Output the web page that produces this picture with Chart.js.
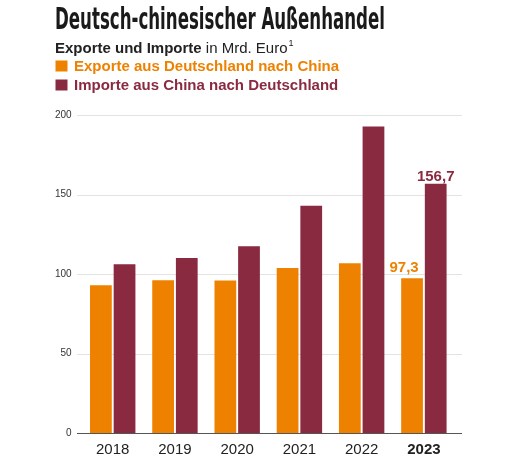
<!DOCTYPE html>
<html>
<head>
<meta charset="utf-8">
<script src="https://cdn.jsdelivr.net/npm/chart.js@4/dist/chart.umd.min.js"></script>
<style>
  html, body { margin: 0; background: #fff; }
  #wrap { width: 520px; height: 469px; position: relative; }
</style>
</head>
<body>
<div id="wrap"><canvas id="c"></canvas></div>
<script>
// data
const years = ["2018", "2019", "2020", "2021", "2022", "2023"];
const exportsDE = [93.0, 96.0, 95.9, 103.7, 106.8, 97.3];
const importsCN = [106.2, 110.1, 117.4, 143.0, 192.8, 156.7];
const yTicks = [0, 50, 100, 150, 200];
const titleText = "Deutsch-chinesischer Außenhandel";
const subBold = "Exporte und Importe";
const subRest = " in Mrd. Euro";
const legendLabels = ["Exporte aus Deutschland nach China", "Importe aus China nach Deutschland"];

const ORANGE = "#ee8100";
const RED = "#8a2a40";
const FONT = "'Liberation Sans', Arial, sans-serif";

// header: title, subtitle and legend drawn on the canvas
const header = {
  id: "header",
  beforeDraw(chart) {
    const ctx = chart.ctx;
    ctx.save();
    ctx.fillStyle = "#fff";
    ctx.fillRect(0, 0, chart.width, chart.height);
    ctx.textBaseline = "alphabetic";
    ctx.textAlign = "left";

    ctx.fillStyle = "#1a1a1a";
    ctx.font = "bold 31px 'Liberation Sans Narrow', 'DejaVu Sans Condensed', " + FONT;
    const w = ctx.measureText(titleText).width;
    ctx.save();
    ctx.translate(55, 29);
    ctx.scale(330 / w, 1);
    ctx.fillText(titleText, 0, 0);
    ctx.restore();

    ctx.fillStyle = "#222";
    ctx.font = "bold 15px " + FONT;
    ctx.fillText(subBold, 55, 53);
    let x = 55 + ctx.measureText(subBold).width;
    ctx.font = "15px " + FONT;
    ctx.fillText(subRest, x, 53);
    x += ctx.measureText(subRest).width;
    ctx.font = "9px " + FONT;
    ctx.fillText("1", x + 1, 46);

    const cols = [ORANGE, RED];
    legendLabels.forEach((t, i) => {
      const base = 71 + i * 19;
      ctx.fillStyle = cols[i];
      ctx.fillRect(55.5, base - 10.5, 12, 11);
      ctx.font = "bold 15px " + FONT;
      ctx.fillText(t, 74, base);
    });
    ctx.restore();
  }
};

// grid lines reach a bit past the bar area, zero line on top of the bars
const grid = {
  id: "grid",
  beforeDatasetsDraw(chart) {
    const ctx = chart.ctx, y = chart.scales.y, a = chart.chartArea;
    ctx.save();
    ctx.strokeStyle = "#e3e3e3";
    ctx.lineWidth = 1;
    yTicks.forEach(v => {
      if (v === 0) return;
      const py = Math.round(y.getPixelForValue(v)) + 0.5;
      ctx.beginPath();
      ctx.moveTo(a.left - 4.6, py);
      ctx.lineTo(a.right + 7, py);
      ctx.stroke();
    });
    ctx.restore();
  },
  afterDatasetsDraw(chart) {
    const ctx = chart.ctx, y = chart.scales.y, a = chart.chartArea;
    ctx.save();
    ctx.strokeStyle = "#555";
    ctx.lineWidth = 1;
    const py = Math.round(y.getPixelForValue(0)) + 0.5;
    ctx.beginPath();
    ctx.moveTo(a.left - 4.6, py);
    ctx.lineTo(a.right + 7, py);
    ctx.stroke();

    // value labels for 2023
    ctx.font = "bold 15px " + FONT;
    ctx.textAlign = "center";
    ctx.textBaseline = "alphabetic";
    const last = years.length - 1;
    const eBar = chart.getDatasetMeta(0).data[last];
    const iBar = chart.getDatasetMeta(1).data[last];
    ctx.fillStyle = ORANGE;
    ctx.fillText(exportsDE[last].toFixed(1).replace(".", ","), eBar.x - 8, eBar.y - 6);
    ctx.fillStyle = RED;
    ctx.fillText(importsCN[last].toFixed(1).replace(".", ","), iBar.x, iBar.y - 3);
    ctx.restore();
  }
};

new Chart(document.getElementById("c"), {
  type: "bar",
  data: {
    labels: years,
    datasets: [
      { label: legendLabels[0], data: exportsDE, backgroundColor: ORANGE },
      { label: legendLabels[1], data: importsCN, backgroundColor: RED }
    ]
  },
  options: {
    responsive: true,
    maintainAspectRatio: false,
    animation: false,
    events: [],
    categoryPercentage: 0.76,
    barPercentage: 0.92,
    layout: { padding: { top: 115, left: 0, right: 65, bottom: 0 } },
    plugins: { legend: { display: false }, tooltip: { enabled: false } },
    scales: {
      x: {
        grid: { display: false, drawTicks: false },
        border: { display: false },
        afterFit: s => { s.height = 36; },
        ticks: {
          padding: 8,
          color: "#222",
          font: c => ({ family: FONT, size: 15, weight: c.index === years.length - 1 ? "bold" : "normal" })
        }
      },
      y: {
        min: 0,
        max: 200,
        afterBuildTicks: s => { s.ticks = yTicks.map(v => ({ value: v })); },
        afterFit: s => { s.width = 81.6; },
        grid: { display: false, drawTicks: false },
        border: { display: false },
        ticks: { padding: 10, color: "#333", font: { family: FONT, size: 10 } }
      }
    }
  },
  plugins: [header, grid]
});
</script>
</body>
</html>
